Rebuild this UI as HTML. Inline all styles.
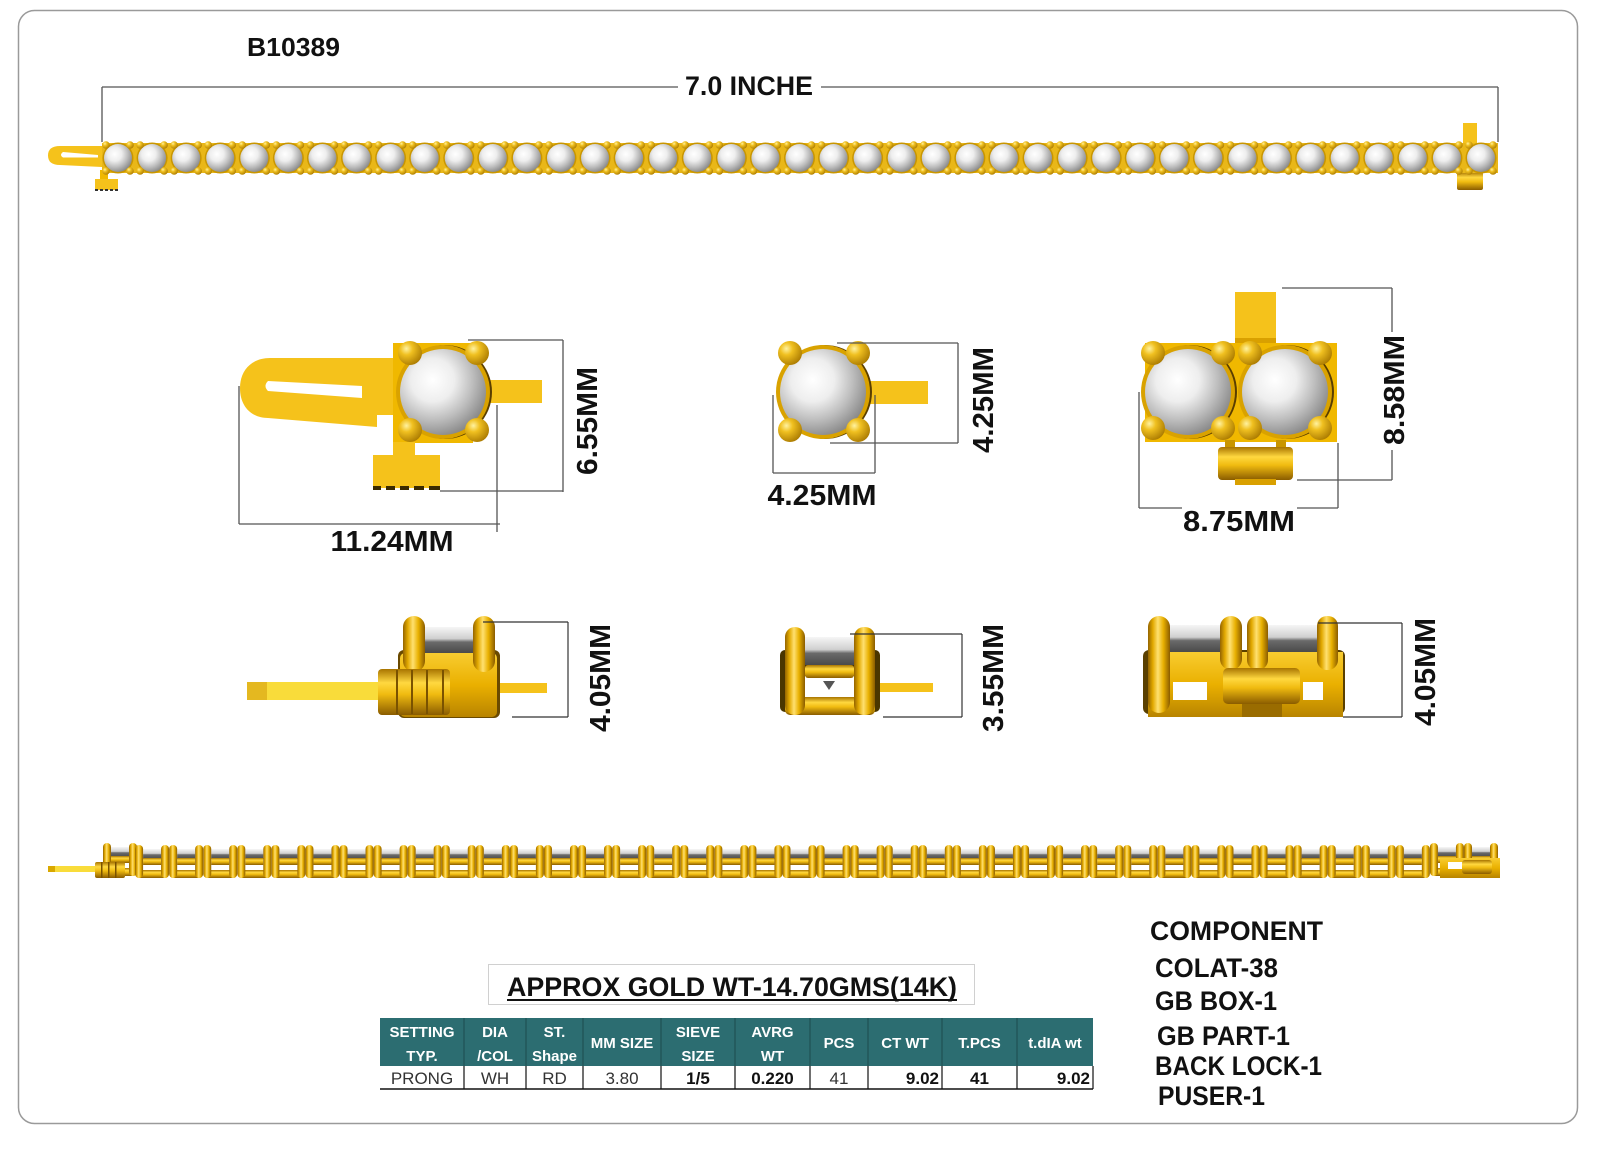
<!DOCTYPE html>
<html><head><meta charset="utf-8"><style>
html,body{margin:0;padding:0;background:#fff;}
svg{display:block;}
</style></head><body>
<svg width="1600" height="1163" viewBox="0 0 1600 1163" xmlns="http://www.w3.org/2000/svg" font-family="'Liberation Sans', sans-serif">
<defs>
<radialGradient id="stone" cx="0.38" cy="0.36" r="0.72">
<stop offset="0" stop-color="#ffffff"/><stop offset="0.35" stop-color="#eeeeee"/><stop offset="0.65" stop-color="#bdbdbd"/><stop offset="1" stop-color="#7e7e7e"/>
</radialGradient>
<radialGradient id="ball" cx="0.35" cy="0.32" r="0.75">
<stop offset="0" stop-color="#fff2a0"/><stop offset="0.35" stop-color="#f0c020"/><stop offset="1" stop-color="#a87800"/>
</radialGradient>
<linearGradient id="cylV" x1="0" y1="0" x2="1" y2="0">
<stop offset="0" stop-color="#946400"/><stop offset="0.22" stop-color="#e2a900"/><stop offset="0.45" stop-color="#ffe070"/><stop offset="0.7" stop-color="#e8b000"/><stop offset="1" stop-color="#8a5c00"/>
</linearGradient>
<linearGradient id="barH" x1="0" y1="0" x2="0" y2="1">
<stop offset="0" stop-color="#a87400"/><stop offset="0.3" stop-color="#ffd840"/><stop offset="0.55" stop-color="#f0bb10"/><stop offset="1" stop-color="#8a5c00"/>
</linearGradient>
<linearGradient id="body" x1="0" y1="0" x2="0" y2="1">
<stop offset="0" stop-color="#f8cc30"/><stop offset="0.5" stop-color="#eab000"/><stop offset="1" stop-color="#b88400"/>
</linearGradient>
<linearGradient id="stoneSide" x1="0" y1="0" x2="0" y2="1">
<stop offset="0" stop-color="#f6f6f6"/><stop offset="0.45" stop-color="#cfcfcf"/><stop offset="0.58" stop-color="#6a6a6a"/><stop offset="1" stop-color="#4a4a4a"/>
</linearGradient>
<g id="u">
<circle r="15.5" fill="#c99600"/>
<circle r="14" fill="url(#stone)"/>
<circle cx="-12" cy="-13" r="3.8" fill="url(#ball)"/>
<circle cx="12" cy="-13" r="3.8" fill="url(#ball)"/>
<circle cx="-12" cy="13" r="3.8" fill="url(#ball)"/>
<circle cx="12" cy="13" r="3.8" fill="url(#ball)"/>
</g>
<g id="L">
<rect x="-9" y="4" width="18" height="10" fill="url(#stoneSide)"/>
<rect x="-9" y="13" width="18" height="7" fill="url(#barH)"/>
<rect x="-16" y="25" width="32" height="8" rx="3" fill="url(#barH)"/>
<rect x="-17" y="0" width="8" height="33" rx="4" fill="url(#cylV)"/>
<rect x="9" y="0" width="8" height="33" rx="4" fill="url(#cylV)"/>
</g>
<g id="bigStone">
<circle cx="2" r="47" fill="#5a3e00"/>
<circle r="47" fill="#d9a200"/>
<circle r="43" fill="url(#stone)"/>
</g>
</defs>

<!-- frame -->
<rect x="18.5" y="10.5" width="1559" height="1113" rx="16" fill="#fff" stroke="#9a9a9a" stroke-width="1.5"/>

<text x="247" y="56" font-size="26" font-weight="bold" fill="#111" textLength="93" lengthAdjust="spacingAndGlyphs">B10389</text>

<!-- top dimension -->
<g stroke="#555" stroke-width="1.3" fill="none">
<line x1="102" y1="87" x2="678" y2="87"/>
<line x1="821" y1="87" x2="1498" y2="87"/>
<line x1="102" y1="87" x2="102" y2="142"/>
<line x1="1498" y1="87" x2="1498" y2="142"/>
</g>
<text x="749" y="95" font-size="27" font-weight="bold" fill="#111" text-anchor="middle" textLength="128" lengthAdjust="spacingAndGlyphs">7.0 INCHE</text>

<!-- top bracelet -->
<path d="M102 146 L60 146 Q48 146 48 155.5 Q48 165 60 165 L102 167 Z" fill="#f5c21b"/>
<path d="M63 152 L98 155 L98 157.5 L63 157.5 Q59 155 63 152 Z" fill="#fff"/>
<rect x="100" y="170" width="8" height="10" fill="#f0b800"/>
<rect x="95" y="179" width="23" height="11" fill="#f5c21b"/>
<g fill="#333"><rect x="95" y="189" width="3" height="2"/><rect x="100" y="189" width="3" height="2"/><rect x="105" y="189" width="3" height="2"/><rect x="110" y="189" width="3" height="2"/><rect x="115" y="189" width="3" height="2"/></g>
<rect x="1463" y="123" width="14" height="22" fill="#f5c21b"/>
<rect x="1457" y="172" width="26" height="18" rx="2" fill="url(#barH)"/>
<rect x="102" y="143" width="1396" height="30" fill="#e9b718"/>
<g>
<use href="#u" x="118" y="158"/><use href="#u" x="152.08" y="158"/><use href="#u" x="186.15" y="158"/><use href="#u" x="220.23" y="158"/><use href="#u" x="254.3" y="158"/><use href="#u" x="288.38" y="158"/><use href="#u" x="322.45" y="158"/><use href="#u" x="356.53" y="158"/><use href="#u" x="390.6" y="158"/><use href="#u" x="424.68" y="158"/><use href="#u" x="458.75" y="158"/><use href="#u" x="492.83" y="158"/><use href="#u" x="526.9" y="158"/><use href="#u" x="560.98" y="158"/><use href="#u" x="595.05" y="158"/><use href="#u" x="629.13" y="158"/><use href="#u" x="663.2" y="158"/><use href="#u" x="697.28" y="158"/><use href="#u" x="731.35" y="158"/><use href="#u" x="765.43" y="158"/><use href="#u" x="799.5" y="158"/><use href="#u" x="833.58" y="158"/><use href="#u" x="867.65" y="158"/><use href="#u" x="901.73" y="158"/><use href="#u" x="935.8" y="158"/><use href="#u" x="969.88" y="158"/><use href="#u" x="1003.95" y="158"/><use href="#u" x="1038.03" y="158"/><use href="#u" x="1072.1" y="158"/><use href="#u" x="1106.18" y="158"/><use href="#u" x="1140.25" y="158"/><use href="#u" x="1174.33" y="158"/><use href="#u" x="1208.4" y="158"/><use href="#u" x="1242.48" y="158"/><use href="#u" x="1276.55" y="158"/><use href="#u" x="1310.63" y="158"/><use href="#u" x="1344.7" y="158"/><use href="#u" x="1378.78" y="158"/><use href="#u" x="1412.85" y="158"/><use href="#u" x="1446.93" y="158"/><use href="#u" x="1481" y="158"/>
</g>

<!-- ROW 2: left clasp top view -->
<path d="M395 358 L270 358 C252 358 240 370 240 388 C240 407 252 418 268 418 L377 427 L377 415 L395 415 Z" fill="#f5c21b"/>
<path d="M268 381 L362 386 L362 398 L268 391 Q263 386 268 381 Z" fill="#fff"/>
<rect x="362" y="386" width="33" height="12" fill="#f5c21b"/>
<rect x="393" y="343" width="80" height="100" fill="#f0b800"/>
<rect x="488" y="380" width="54" height="23" fill="#f5c21b"/>
<use href="#bigStone" x="443" y="392"/>
<circle cx="410" cy="353" r="12" fill="url(#ball)"/><circle cx="477" cy="353" r="12" fill="url(#ball)"/>
<circle cx="410" cy="430" r="12" fill="url(#ball)"/><circle cx="477" cy="430" r="12" fill="url(#ball)"/>
<rect x="393" y="442" width="22" height="14" fill="#f5c21b"/>
<rect x="373" y="455" width="67" height="33" fill="#f5c21b"/>
<g fill="#3a2a00"><rect x="373" y="486" width="8" height="4"/><rect x="386" y="486" width="9" height="4"/><rect x="400" y="486" width="9" height="4"/><rect x="414" y="486" width="10" height="4"/><rect x="429" y="486" width="11" height="4"/></g>
<g stroke="#555" stroke-width="1.3" fill="none">
<line x1="468" y1="340" x2="563" y2="340"/><line x1="563" y1="340" x2="563" y2="492"/><line x1="440" y1="491" x2="563" y2="491"/>
<line x1="239" y1="386" x2="239" y2="524"/><line x1="239" y1="524" x2="500" y2="524"/><line x1="497" y1="405" x2="497" y2="532"/>
</g>
<text transform="translate(597,421) rotate(-90)" font-size="29" font-weight="bold" fill="#111" text-anchor="middle" textLength="108" lengthAdjust="spacingAndGlyphs">6.55MM</text>
<text x="392" y="551" font-size="29" font-weight="bold" fill="#111" text-anchor="middle" textLength="123" lengthAdjust="spacingAndGlyphs">11.24MM</text>

<!-- ROW 2: middle single -->
<rect x="866" y="381" width="62" height="23" fill="#f5c21b"/>
<use href="#bigStone" x="823" y="392"/>
<circle cx="790" cy="353" r="12" fill="url(#ball)"/><circle cx="858" cy="353" r="12" fill="url(#ball)"/>
<circle cx="790" cy="430" r="12" fill="url(#ball)"/><circle cx="858" cy="430" r="12" fill="url(#ball)"/>
<g stroke="#555" stroke-width="1.3" fill="none">
<line x1="837" y1="343" x2="958" y2="343"/><line x1="958" y1="343" x2="958" y2="443"/><line x1="830" y1="443" x2="958" y2="443"/>
<line x1="773" y1="395" x2="773" y2="473"/><line x1="875" y1="395" x2="875" y2="473"/><line x1="773" y1="473" x2="875" y2="473"/>
</g>
<text transform="translate(993,400) rotate(-90)" font-size="29" font-weight="bold" fill="#111" text-anchor="middle" textLength="106" lengthAdjust="spacingAndGlyphs">4.25MM</text>
<text x="822" y="505" font-size="29" font-weight="bold" fill="#111" text-anchor="middle" textLength="109" lengthAdjust="spacingAndGlyphs">4.25MM</text>

<!-- ROW 2: right box -->
<rect x="1235" y="292" width="41" height="52" fill="#f5c21b"/>
<rect x="1235" y="338" width="41" height="5" fill="#d9a000"/>
<rect x="1145" y="343" width="192" height="99" fill="#f0b800"/>
<rect x="1225" y="440" width="10" height="8" fill="#c99600"/><rect x="1276" y="440" width="10" height="8" fill="#c99600"/>
<rect x="1218" y="447" width="75" height="33" rx="4" fill="url(#barH)"/>
<rect x="1235" y="479" width="41" height="6" fill="#d9a000"/>
<use href="#bigStone" x="1188" y="392"/>
<use href="#bigStone" x="1285" y="392"/>
<circle cx="1153" cy="353" r="12" fill="url(#ball)"/><circle cx="1223" cy="353" r="12" fill="url(#ball)"/>
<circle cx="1153" cy="428" r="12" fill="url(#ball)"/><circle cx="1223" cy="428" r="12" fill="url(#ball)"/>
<circle cx="1250" cy="353" r="12" fill="url(#ball)"/><circle cx="1320" cy="353" r="12" fill="url(#ball)"/>
<circle cx="1250" cy="428" r="12" fill="url(#ball)"/><circle cx="1320" cy="428" r="12" fill="url(#ball)"/>
<g stroke="#555" stroke-width="1.3" fill="none">
<line x1="1282" y1="288" x2="1392" y2="288"/><line x1="1392" y1="288" x2="1392" y2="480"/><line x1="1297" y1="480" x2="1392" y2="480"/>
<line x1="1139" y1="392" x2="1139" y2="508"/><line x1="1338" y1="443" x2="1338" y2="508"/>
<line x1="1139" y1="508" x2="1182" y2="508"/><line x1="1297" y1="508" x2="1338" y2="508"/>
</g>
<rect x="1380" y="332" width="28" height="118" fill="#fff"/>
<text transform="translate(1404,390) rotate(-90)" font-size="29" font-weight="bold" fill="#111" text-anchor="middle" textLength="110" lengthAdjust="spacingAndGlyphs">8.58MM</text>
<text x="1239" y="531" font-size="29" font-weight="bold" fill="#111" text-anchor="middle" textLength="112" lengthAdjust="spacingAndGlyphs">8.75MM</text>

<!-- ROW 3: left side view -->
<rect x="247" y="682" width="135" height="18" fill="#f9dc3a"/>
<rect x="247" y="682" width="20" height="18" fill="#e4b820"/>
<rect x="495" y="683" width="52" height="10" fill="#f5c21b"/>
<rect x="398" y="650" width="102" height="68" rx="6" fill="#6a4a00"/>
<rect x="400" y="653" width="97" height="64" rx="5" fill="url(#body)"/>
<rect x="425" y="627" width="48" height="26" fill="url(#stoneSide)"/>
<rect x="403" y="616" width="22" height="56" rx="11" fill="url(#cylV)"/>
<rect x="473" y="616" width="22" height="56" rx="11" fill="url(#cylV)"/>
<rect x="378" y="669" width="72" height="46" rx="4" fill="url(#barH)"/>
<g fill="#7a5200"><rect x="396" y="670" width="2" height="44"/><rect x="411" y="670" width="2" height="44"/><rect x="426" y="670" width="2" height="44"/><rect x="442" y="670" width="2" height="44"/></g>
<g stroke="#333" stroke-width="1.2" fill="none">
<line x1="483" y1="622" x2="568" y2="622"/><line x1="568" y1="622" x2="568" y2="717"/><line x1="512" y1="717" x2="568" y2="717"/>
</g>
<text transform="translate(610,678) rotate(-90)" font-size="29" font-weight="bold" fill="#111" text-anchor="middle" textLength="108" lengthAdjust="spacingAndGlyphs">4.05MM</text>

<!-- ROW 3: middle side view -->
<rect x="875" y="683" width="58" height="9" fill="#f5c21b"/>
<rect x="780" y="650" width="100" height="62" rx="5" fill="#4a3600"/>
<rect x="805" y="676" width="49" height="22" fill="#fff"/>
<path d="M823 681 L835 681 L829 690 Z" fill="#555"/>
<rect x="805" y="637" width="49" height="28" fill="url(#stoneSide)"/>
<rect x="805" y="665" width="49" height="13" rx="3" fill="url(#barH)"/>
<rect x="785" y="697" width="90" height="18" rx="5" fill="url(#barH)"/>
<rect x="785" y="627" width="20" height="88" rx="10" fill="url(#cylV)"/>
<rect x="854" y="627" width="21" height="88" rx="10" fill="url(#cylV)"/>
<g stroke="#333" stroke-width="1.2" fill="none">
<line x1="850" y1="634" x2="962" y2="634"/><line x1="962" y1="634" x2="962" y2="717"/><line x1="883" y1="717" x2="962" y2="717"/>
</g>
<text transform="translate(1003,678) rotate(-90)" font-size="29" font-weight="bold" fill="#111" text-anchor="middle" textLength="108" lengthAdjust="spacingAndGlyphs">3.55MM</text>

<!-- ROW 3: right side view -->
<rect x="1143" y="650" width="202" height="64" rx="6" fill="#5a4000"/>
<rect x="1148" y="652" width="195" height="65" fill="url(#body)"/>
<rect x="1173" y="682" width="34" height="18" fill="#fff"/>
<rect x="1303" y="682" width="20" height="18" fill="#fff"/>
<rect x="1170" y="625" width="50" height="27" fill="url(#stoneSide)"/>
<rect x="1268" y="625" width="49" height="27" fill="url(#stoneSide)"/>
<rect x="1148" y="616" width="22" height="97" rx="11" fill="url(#cylV)"/>
<rect x="1220" y="616" width="22" height="54" rx="11" fill="url(#cylV)"/>
<rect x="1247" y="616" width="21" height="54" rx="10" fill="url(#cylV)"/>
<rect x="1317" y="616" width="21" height="54" rx="10" fill="url(#cylV)"/>
<rect x="1242" y="695" width="40" height="22" fill="#9a6c00"/>
<rect x="1223" y="668" width="77" height="36" rx="5" fill="url(#barH)"/>
<g stroke="#333" stroke-width="1.2" fill="none">
<line x1="1318" y1="623" x2="1402" y2="623"/><line x1="1402" y1="623" x2="1402" y2="717"/><line x1="1343" y1="717" x2="1402" y2="717"/>
</g>
<text transform="translate(1435,672) rotate(-90)" font-size="29" font-weight="bold" fill="#111" text-anchor="middle" textLength="108" lengthAdjust="spacingAndGlyphs">4.05MM</text>

<!-- bottom side bracelet -->
<rect x="48" y="866" width="52" height="6" fill="#f9dc3a"/>
<rect x="48" y="866" width="7" height="6" fill="#d9a800"/>
<g>
<use href="#L" x="120" y="843"/><use href="#L" x="152.08" y="845"/><use href="#L" x="186.15" y="845"/><use href="#L" x="220.23" y="845"/><use href="#L" x="254.3" y="845"/><use href="#L" x="288.38" y="845"/><use href="#L" x="322.45" y="845"/><use href="#L" x="356.53" y="845"/><use href="#L" x="390.6" y="845"/><use href="#L" x="424.68" y="845"/><use href="#L" x="458.75" y="845"/><use href="#L" x="492.83" y="845"/><use href="#L" x="526.9" y="845"/><use href="#L" x="560.98" y="845"/><use href="#L" x="595.05" y="845"/><use href="#L" x="629.13" y="845"/><use href="#L" x="663.2" y="845"/><use href="#L" x="697.28" y="845"/><use href="#L" x="731.35" y="845"/><use href="#L" x="765.43" y="845"/><use href="#L" x="799.5" y="845"/><use href="#L" x="833.58" y="845"/><use href="#L" x="867.65" y="845"/><use href="#L" x="901.73" y="845"/><use href="#L" x="935.8" y="845"/><use href="#L" x="969.88" y="845"/><use href="#L" x="1003.95" y="845"/><use href="#L" x="1038.03" y="845"/><use href="#L" x="1072.1" y="845"/><use href="#L" x="1106.18" y="845"/><use href="#L" x="1140.25" y="845"/><use href="#L" x="1174.33" y="845"/><use href="#L" x="1208.4" y="845"/><use href="#L" x="1242.48" y="845"/><use href="#L" x="1276.55" y="845"/><use href="#L" x="1310.63" y="845"/><use href="#L" x="1344.7" y="845"/><use href="#L" x="1378.78" y="845"/><use href="#L" x="1412.85" y="845"/><use href="#L" x="1446.93" y="843"/><use href="#L" x="1481" y="843"/>
</g>
<rect x="95" y="862" width="30" height="16" rx="2" fill="url(#barH)"/>
<g fill="#7a5200"><rect x="101" y="862" width="1.5" height="16"/><rect x="108" y="862" width="1.5" height="16"/><rect x="115" y="862" width="1.5" height="16"/></g>
<rect x="1440" y="858" width="60" height="20" fill="url(#body)"/>
<rect x="1448" y="862" width="20" height="7" fill="#fff"/>
<rect x="1462" y="860" width="30" height="14" rx="3" fill="url(#barH)"/>

<!-- gold weight box -->
<rect x="488.5" y="964.5" width="486" height="40" fill="#fff" stroke="#d0d0d0" stroke-width="1"/>
<text x="732" y="996" font-size="27" font-weight="bold" fill="#111" text-anchor="middle" textLength="450" lengthAdjust="spacingAndGlyphs">APPROX GOLD WT-14.70GMS(14K)</text>
<rect x="507" y="999" width="450" height="2" fill="#111"/>

<!-- table -->
<rect x="380" y="1018" width="713" height="48" fill="#2c6d71"/>
<g stroke="#1f5154" stroke-width="1.2">
<line x1="464" y1="1018" x2="464" y2="1066"/><line x1="526" y1="1018" x2="526" y2="1066"/><line x1="583" y1="1018" x2="583" y2="1066"/><line x1="661" y1="1018" x2="661" y2="1066"/><line x1="735" y1="1018" x2="735" y2="1066"/><line x1="810" y1="1018" x2="810" y2="1066"/><line x1="868" y1="1018" x2="868" y2="1066"/><line x1="942" y1="1018" x2="942" y2="1066"/><line x1="1017" y1="1018" x2="1017" y2="1066"/>
</g>
<g font-size="15" font-weight="bold" fill="#fff" text-anchor="middle">
<text x="422" y="1037">SETTING</text><text x="422" y="1061">TYP.</text>
<text x="495" y="1037">DIA</text><text x="495" y="1061">/COL</text>
<text x="554.5" y="1037">ST.</text><text x="554.5" y="1061">Shape</text>
<text x="622" y="1048">MM SIZE</text>
<text x="698" y="1037">SIEVE</text><text x="698" y="1061">SIZE</text>
<text x="772.5" y="1037">AVRG</text><text x="772.5" y="1061">WT</text>
<text x="839" y="1048">PCS</text>
<text x="905" y="1048">CT WT</text>
<text x="979.5" y="1048">T.PCS</text>
<text x="1055" y="1048">t.dIA wt</text>
</g>
<g stroke="#111" stroke-width="1.2">
<line x1="464" y1="1066" x2="464" y2="1089"/><line x1="526" y1="1066" x2="526" y2="1089"/><line x1="583" y1="1066" x2="583" y2="1089"/><line x1="661" y1="1066" x2="661" y2="1089"/><line x1="735" y1="1066" x2="735" y2="1089"/><line x1="810" y1="1066" x2="810" y2="1089"/><line x1="868" y1="1066" x2="868" y2="1089"/><line x1="942" y1="1066" x2="942" y2="1089"/><line x1="1017" y1="1066" x2="1017" y2="1089"/><line x1="1093" y1="1066" x2="1093" y2="1089"/>
<line x1="380" y1="1089" x2="1093" y2="1089" stroke-width="1.6"/>
</g>
<g font-size="17" fill="#333" text-anchor="middle">
<text x="422" y="1084">PRONG</text>
<text x="495" y="1084">WH</text>
<text x="554.5" y="1084">RD</text>
<text x="622" y="1084">3.80</text>
<text x="839" y="1084">41</text>
</g>
<g font-size="17" font-weight="bold" fill="#111">
<text x="698" y="1084" text-anchor="middle">1/5</text>
<text x="772.5" y="1084" text-anchor="middle">0.220</text>
<text x="939" y="1084" text-anchor="end">9.02</text>
<text x="979.5" y="1084" text-anchor="middle">41</text>
<text x="1090" y="1084" text-anchor="end">9.02</text>
</g>

<!-- component list -->
<g font-size="27" font-weight="bold" fill="#111">
<text x="1150" y="940" textLength="173" lengthAdjust="spacingAndGlyphs">COMPONENT</text>
<text x="1155" y="977" textLength="123" lengthAdjust="spacingAndGlyphs">COLAT-38</text>
<text x="1155" y="1010" textLength="122" lengthAdjust="spacingAndGlyphs">GB BOX-1</text>
<text x="1157" y="1045" textLength="133" lengthAdjust="spacingAndGlyphs">GB PART-1</text>
<text x="1155" y="1075" textLength="167" lengthAdjust="spacingAndGlyphs">BACK LOCK-1</text>
<text x="1158" y="1105" textLength="107" lengthAdjust="spacingAndGlyphs">PUSER-1</text>
</g>
</svg>
</body></html>
